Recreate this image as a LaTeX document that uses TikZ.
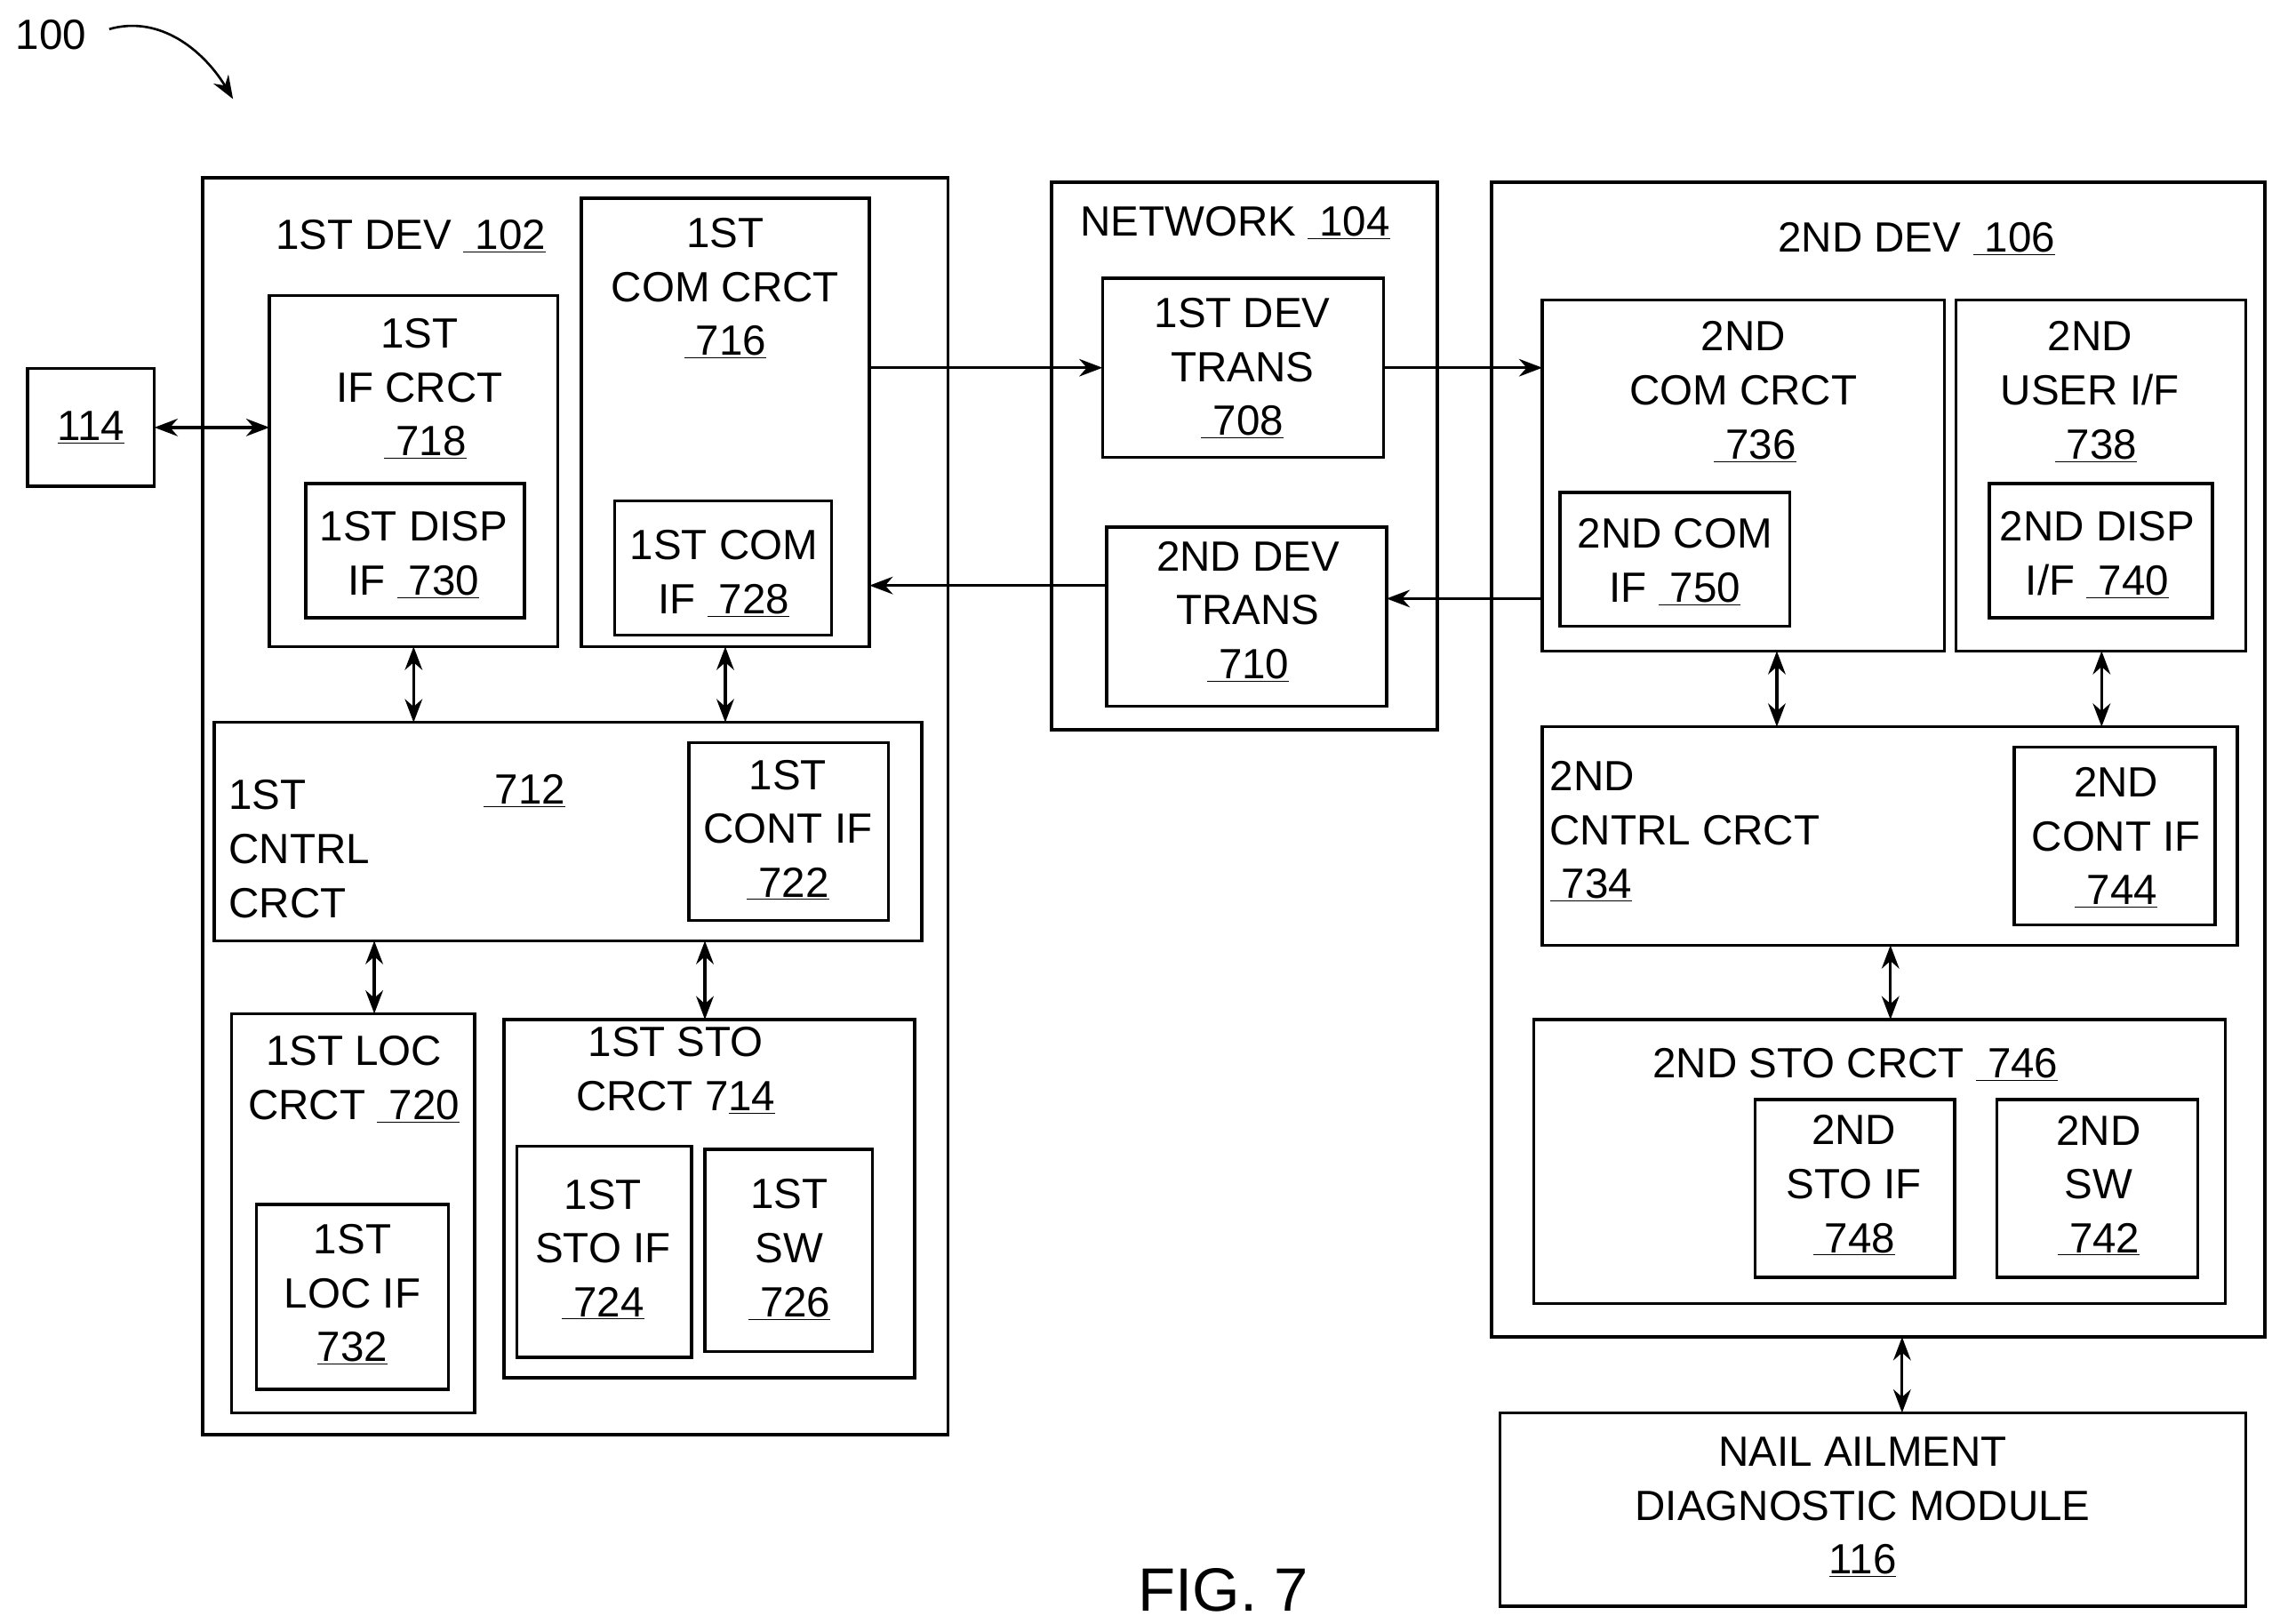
\documentclass[tikz,border=0pt]{standalone}
\usepackage{fontspec}
\setmainfont{Liberation Sans}
\usetikzlibrary{arrows.meta}
\newcommand\mybox[5]{\node[box,minimum width={(#4-#2)*1pt},minimum height={(#5-#3)*1pt}] (#1) at ({(#2+#4)/2},{(#3+#5)/2}) {};}
\begin{document}
\begin{tikzpicture}[x=1pt,y=-1pt,
 box/.style={draw,line width=2.2pt,inner sep=0pt,outer sep=0pt},
 txt/.style={font=\fontsize{29}{37}\selectfont,align=center,inner sep=0pt},
 lt/.style={txt,align=left,anchor=west},
 ar/.style={line width=2pt,-{Stealth[length=16pt,width=12pt]}},
 dar/.style={line width=2pt,{Stealth[length=16pt,width=12pt]}-{Stealth[length=16pt,width=12pt]}}]
\useasboundingbox (0,0) rectangle (1560,1115);
% boxes
\mybox{b114}{19}{253}{106}{334}
\mybox{dev1}{139}{122}{651}{985}
\mybox{if718}{185}{203}{383}{444}
\mybox{d730}{210}{332}{360}{424}
\mybox{c716}{399}{136}{597}{444}
\mybox{c728}{422}{344}{571}{436}
\mybox{net}{722}{125}{987}{501}
\mybox{t708}{757}{191}{950}{314}
\mybox{t710}{760}{362}{952}{485}
\mybox{dev2}{1024}{125}{1555}{918}
\mybox{c736}{1059}{206}{1335}{447}
\mybox{c750}{1071}{338}{1229}{430}
\mybox{u738}{1343}{206}{1542}{447}
\mybox{d740}{1366}{332}{1519}{424}
\mybox{k734}{1059}{499}{1536}{649}
\mybox{k744}{1383}{513}{1521}{635}
\mybox{s746}{1053}{700}{1528}{895}
\mybox{s748}{1205}{755}{1342}{877}
\mybox{w742}{1371}{755}{1509}{877}
\mybox{nail}{1030}{970}{1542}{1103}
\mybox{k712}{147}{496}{633}{646}
\mybox{k722}{473}{510}{610}{632}
\mybox{l720}{159}{696}{326}{970}
\mybox{l732}{176}{827}{308}{954}
\mybox{s714}{346}{700}{628}{946}
\mybox{s724}{355}{787}{475}{932}
\mybox{w726}{484}{789}{599}{928}
% texts
\node[txt] (n114) at (b114) {\underline{114}};
\node[txt] (n102) at (282,162) {1ST DEV \underline{\ 102}};
\node[txt] (n718) at (288,267) {1ST\\IF CRCT\\\ \underline{\ 718}};
\node[txt] (n730) at (284,381) {1ST DISP\\IF \underline{\ 730}};
\node[txt] (n716) at (498,198) {1ST\\COM CRCT\\\underline{\ 716}};
\node[txt] (n728) at (497,394) {1ST COM\\IF \underline{\ 728}};
\node[txt] (n104) at (848,153) {NETWORK \underline{\ 104}};
\node[txt] (n708) at (853,253) {1ST DEV\\TRANS\\\underline{\ 708}};
\node[txt] (n710) at (857,420) {2ND DEV\\TRANS\\\underline{\ 710}};
\node[txt] (n106) at (1316,164) {2ND DEV \underline{\ 106}};
\node[txt] (n736) at (1197,269) {2ND\\COM CRCT\\\ \ \underline{\ 736}};
\node[txt] (n750) at (1150,386) {2ND COM\\IF \underline{\ 750}};
\node[txt] (n738) at (1435,269) {2ND\\USER I/F\\\ \underline{\ 738}};
\node[txt] (n740) at (1440,381) {2ND DISP\\I/F \underline{\ 740}};
\node[lt] (n734) at (1064,571) {2ND\\CNTRL CRCT\\\underline{\ 734}};
\node[txt] (n744) at (1453,575) {2ND\\CONT IF\\\underline{\ 744}};
\node[txt] (n746) at (1274,731) {2ND STO CRCT \underline{\ 746}};
\node[txt] (n748) at (1273,814) {2ND\\STO IF\\\underline{\ 748}};
\node[txt] (n742) at (1441,814) {2ND\\SW\\\underline{\ 742}};
\node[txt] (n116) at (1279,1035) {NAIL AILMENT\\DIAGNOSTIC MODULE\\\underline{116}};
\node[lt] (n712a) at (157,583) {1ST\\CNTRL\\CRCT};
\node[txt] (n712) at (360,543) {\underline{\ 712}};
\node[txt] (n722) at (541,570) {1ST\\CONT IF\\\underline{\ 722}};
\node[txt] (n720) at (243,741) {1ST LOC\\CRCT \underline{\ 720}};
\node[txt] (n732) at (242,889) {1ST\\LOC IF\\\underline{732}};
\node[txt] (n714) at (464,735) {1ST STO\\CRCT 7\underline{14}};
\node[txt] (n724) at (414,858) {1ST\\STO IF\\\underline{\ 724}};
\node[txt] (n726) at (542,858) {1ST\\SW\\\underline{\ 726}};
\node[txt,font=\fontsize{42}{50}\selectfont] (fig) at (840,1092) {FIG. 7};
\node[txt] (n100) at (35,24) {100};
% connectors
\coordinate (a0) at (75,20);
\coordinate (a1) at (160,68);
\draw[line width=1.6pt,-{Stealth[length=16pt,width=12pt]}] (a0) .. controls (110,10) and (140,35) .. (a1);
\draw[dar] (b114.east) -- (b114.east -| if718.west);
\draw[ar] (c716.east |- t708.west) -- (t708.west);
\draw[ar] (t708.east) -- (t708.east -| c736.west);
\draw[ar] (c736.west |- 0,411) -- (t710.east |- 0,411);
\draw[ar] (t710.west |- 0,402) -- (c716.east |- 0,402);
\draw[dar] (if718.south -| 284,0) -- (k712.north -| 284,0);
\draw[dar] (c716.south -| 498,0) -- (k712.north -| 498,0);
\draw[dar] (k712.south -| 257,0) -- (l720.north -| 257,0);
\draw[dar] (k712.south -| 484,0) -- (s714.north -| 484,0);
\draw[dar] (c736.south -| 1220,0) -- (k734.north -| 1220,0);
\draw[dar] (u738.south -| 1443,0) -- (k734.north -| 1443,0);
\draw[dar] (k734.south -| 1298,0) -- (s746.north -| 1298,0);
\draw[dar] (dev2.south -| 1306,0) -- (nail.north -| 1306,0);
\end{tikzpicture}
\end{document}
